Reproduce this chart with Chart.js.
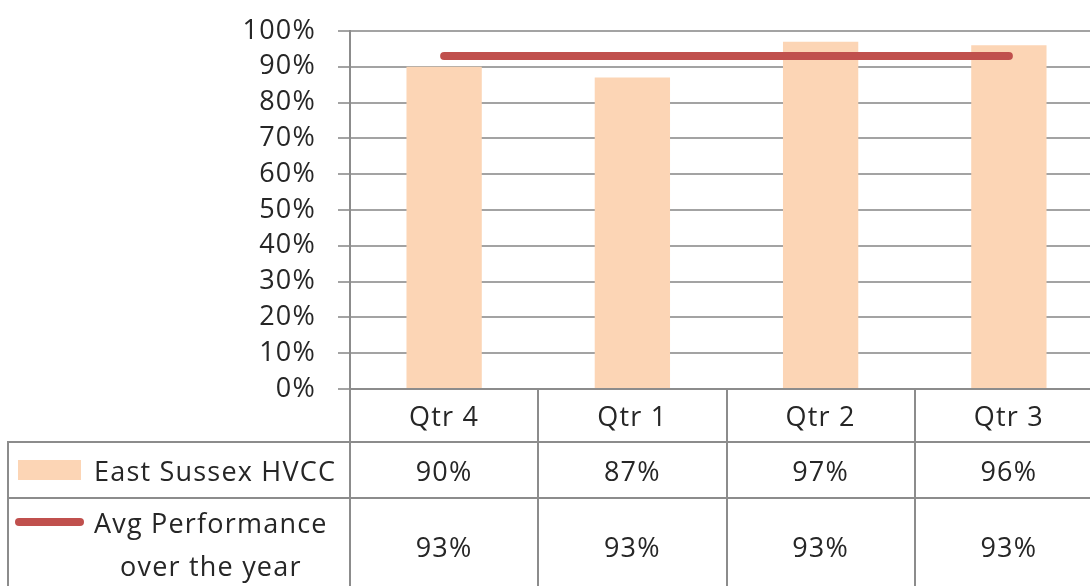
<!DOCTYPE html>
<html>
<head>
<meta charset="utf-8">
<script src="https://cdn.jsdelivr.net/npm/chart.js@4.4.0/dist/chart.umd.min.js"></script>
<style>
    html, body { margin: 0; padding: 0; background: #fff; width: 1090px; height: 586px; overflow: hidden; }
    #wrap { position: absolute; left: 0; top: 0; width: 1110px; height: 586px; }
    #dataTable {
        position: absolute; top: 441px; left: 7px;
        border-collapse: collapse; table-layout: fixed;
        font-family: 'Open Sans', sans-serif; font-size: 27px; letter-spacing: 1.2px; color: #262626;
    }
    #dataTable td { border: 2px solid #8c8c8c; padding: 0; text-align: center; vertical-align: middle; white-space: nowrap; }
    #dataTable td.top { vertical-align: top; padding-top: 2px; }
    .label { display: flex; align-items: flex-start; }
    .label .txt { text-align: center; }
    .swatch-bar { width: 63px; height: 20px; background: #fcd5b5; margin: 0 13px 0 9px; align-self: center; }
    .swatch-line { width: 69px; height: 8px; border-radius: 4px; background: #c0504d; margin: 17px 10px 0 6px; }
</style>
</head>
<body>
<div id="wrap">
    <canvas id="chart" width="1110" height="586"></canvas>
    <table id="dataTable"></table>
</div>
<script>
// Chart data
const quarters = ['Qtr 4', 'Qtr 1', 'Qtr 2', 'Qtr 3'];
const hvccValues = [90, 87, 97, 96];
const avgValues = [93, 93, 93, 93];
const seriesNames = ['East Sussex HVCC', 'Avg Performance over the year'];

const textColor = '#262626';
const lineGray = '#8c8c8c';
const fontFamily = "'Open Sans', sans-serif";

// canvas text gets the same spacing as the table text
const spacingPlugin = {
    id: 'spacing',
    beforeDraw(chart) { chart.ctx.letterSpacing = '1.2px'; }
};

const ctx = document.getElementById('chart').getContext('2d');

const chart = new Chart(ctx, {
    data: {
        labels: quarters,
        datasets: [
            {
                type: 'line',
                label: seriesNames[1],
                data: avgValues,
                borderColor: '#c0504d',
                borderWidth: 8,
                borderCapStyle: 'round',
                pointRadius: 0,
                order: 1
            },
            {
                type: 'bar',
                label: seriesNames[0],
                data: hvccValues,
                backgroundColor: '#fcd5b5',
                categoryPercentage: 1,
                barPercentage: 0.4,
                order: 2
            }
        ]
    },
    options: {
        responsive: false,
        animation: false,
        layout: { padding: { top: 31, right: 7, bottom: 144, left: 0 } },
        plugins: {
            legend: { display: false },
            tooltip: { enabled: false }
        },
        scales: {
            x: {
                offset: true,
                grid: {
                    drawOnChartArea: false,
                    tickLength: 53,
                    color: lineGray,
                    lineWidth: 2,
                    offset: true
                },
                border: { color: lineGray, width: 2 },
                ticks: {
                    padding: -40,
                    color: textColor,
                    font: { family: fontFamily, size: 27 }
                },
                afterFit(scale) { scale.height = 53; }
            },
            y: {
                min: 0,
                max: 100,
                ticks: {
                    stepSize: 10,
                    autoSkip: false,
                    padding: 22,
                    color: textColor,
                    font: { family: fontFamily, size: 27, lineHeight: 1 },
                    callback: v => v + '%'
                },
                grid: { color: '#a3a3a3', lineWidth: 2, tickLength: 12 },
                border: { color: lineGray, width: 2 },
                afterFit(scale) {
                    scale.width = 350;
                    scale.paddingTop = 0;
                    scale.paddingBottom = 0;
                }
            }
        }
    },
    plugins: [spacingPlugin]
});

// Data table rows, aligned to the category columns of the x scale
function buildTable() {
    const xs = chart.scales.x;
    const colW = (xs.right - xs.left) / quarters.length;
    const firstW = xs.left - 8;
    const table = document.getElementById('dataTable');
    table.style.width = (firstW + colW * quarters.length) + 'px';
    let html = '<colgroup><col style="width:' + firstW + 'px">';
    quarters.forEach(() => { html += '<col style="width:' + colW + 'px">'; });
    html += '</colgroup>';

    html += '<tr style="height:56px"><td><div class="label"><div class="swatch-bar"></div><div class="txt">' +
        seriesNames[0] + '</div></div></td>';
    hvccValues.forEach(v => { html += '<td>' + v + '%</td>'; });
    html += '</tr>';

    html += '<tr style="height:96px"><td class="top"><div class="label" style="line-height:43px"><div class="swatch-line"></div>' +
        '<div class="txt">Avg Performance<br>over the year</div></div></td>';
    avgValues.forEach(v => { html += '<td>' + v + '%</td>'; });
    html += '</tr>';
    table.innerHTML = html;
}
buildTable();
</script>
</body>
</html>
